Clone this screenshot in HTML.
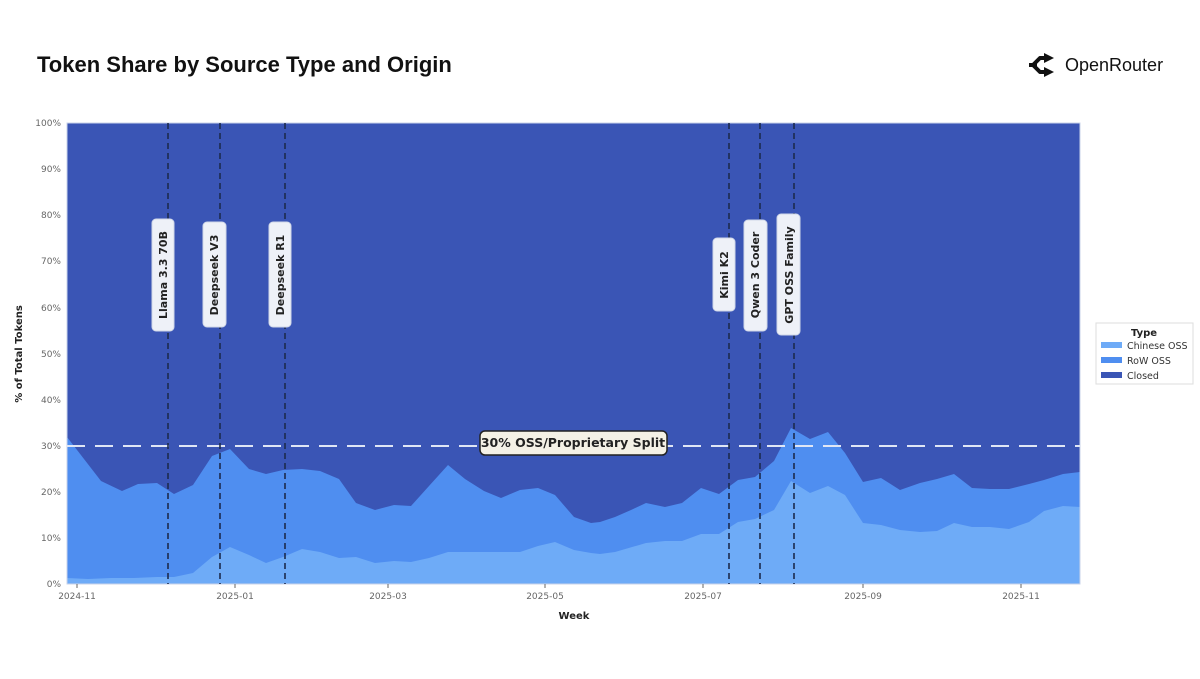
<!DOCTYPE html>
<html><head><meta charset="utf-8"><style>
body{margin:0;background:#fff;width:1200px;height:675px;overflow:hidden;font-family:"DejaVu Sans","Liberation Sans",sans-serif}
</style></head><body>
<svg width="1200" height="675" viewBox="0 0 1200 675" xmlns="http://www.w3.org/2000/svg" font-family="DejaVu Sans, Liberation Sans, sans-serif">
<text x="37" y="72" font-family="Liberation Sans, sans-serif" font-weight="bold" font-size="22" fill="#111">Token Share by Source Type and Origin</text>
<path d="M1046 58 L1040 58 L1033 65 L1040 72 L1046 72" fill="none" stroke="#111" stroke-width="4" stroke-linejoin="round"/>
<path d="M1029 65 L1037 65" stroke="#111" stroke-width="4"/>
<polygon points="1044,53 1054,58 1044,63" fill="#111"/>
<polygon points="1044,67 1054,72 1044,77" fill="#111"/>
<text x="1065" y="71" font-family="Liberation Sans, sans-serif" font-size="18" fill="#111">OpenRouter</text>

<rect x="67" y="123" width="1013" height="461" fill="#3a55b5"/>
<polygon fill="#4f8ef0" points="67,584 67,437 101,481 122,491 138,484 157,483 174,494 193,485 212,456 230,449 249,469 266,474 283,470 302,469 320,471 339,479 356,503 375,510 394,505 411,506 429,486 448,465 465,479 484,491 501,498 520,490 538,488 555,495 574,517 591,523 600,522 615,517 631,510 646,503 665,507 682,503 701,488 719,494 738,480 755,477 774,461 791,428 810,439 828,432 845,453 863,482 881,478 900,490 920,483 937,479 954,474 972,488 990,489 1009,489 1029,484 1044,480 1063,474 1080,472 1080,584"/>
<polygon fill="#6eabf7" points="67,584 67,578 88,579 111,578 134,578 157,577 174,577 193,573 212,557 230,547 249,555 266,563 283,557 302,549 320,552 339,558 356,557 375,563 394,561 411,562 429,558 448,552 484,552 520,552 538,546 555,542 574,550 591,553 600,554 615,552 646,543 665,541 682,541 701,534 719,534 738,522 755,519 774,510 791,481 810,493 828,486 845,495 863,523 881,525 900,530 920,532 937,531 954,523 972,527 990,527 1009,529 1029,522 1044,511 1063,506 1080,507 1080,584"/>
<rect x="67" y="123" width="1013" height="461" fill="none" stroke="#c9d3ea" stroke-width="1"/>

<line x1="67" y1="446" x2="1080" y2="446" stroke="#dfe6f5" stroke-width="2" stroke-dasharray="18,10"/>
<g stroke="#1c2b4d" stroke-width="1.6" stroke-dasharray="6,4">
<line x1="168" y1="123" x2="168" y2="584"/><line x1="220" y1="123" x2="220" y2="584"/><line x1="285" y1="123" x2="285" y2="584"/>
<line x1="729" y1="123" x2="729" y2="584"/><line x1="760" y1="123" x2="760" y2="584"/><line x1="794" y1="123" x2="794" y2="584"/>
</g>
<g fill="#eef1f8" stroke="#d0d7e8" stroke-width="1">
<rect x="152" y="219" width="22" height="112" rx="4"/><rect x="203" y="222" width="23" height="105" rx="4"/><rect x="269" y="222" width="22" height="105" rx="4"/>
<rect x="713" y="238" width="22" height="73" rx="4"/><rect x="744" y="220" width="23" height="111" rx="4"/><rect x="777" y="214" width="23" height="121" rx="4"/>
</g>
<g font-size="11" font-weight="bold" fill="#222" text-anchor="middle">
<text transform="translate(167,275) rotate(-90)">Llama 3.3 70B</text>
<text transform="translate(218,275) rotate(-90)">Deepseek V3</text>
<text transform="translate(284,275) rotate(-90)">Deepseek R1</text>
<text transform="translate(728,275) rotate(-90)">Kimi K2</text>
<text transform="translate(759,275) rotate(-90)">Qwen 3 Coder</text>
<text transform="translate(793,275) rotate(-90)">GPT OSS Family</text>
</g>
<rect x="480" y="431" width="187" height="24" rx="5" fill="#f4f1e6" stroke="#222" stroke-width="1.5"/>
<text x="573" y="447" font-size="12.5" font-weight="bold" fill="#222" text-anchor="middle">30% OSS/Proprietary Split</text>

<g font-size="9" fill="#666" text-anchor="end">
<text x="61" y="587">0%</text><text x="61" y="541">10%</text><text x="61" y="495">20%</text><text x="61" y="449">30%</text><text x="61" y="403">40%</text><text x="61" y="357">50%</text><text x="61" y="311">60%</text><text x="61" y="264">70%</text><text x="61" y="218">80%</text><text x="61" y="172">90%</text><text x="61" y="126">100%</text>
</g>
<g stroke="#666" stroke-width="1"><line x1="77" y1="584" x2="77" y2="588"/><line x1="235" y1="584" x2="235" y2="588"/><line x1="388" y1="584" x2="388" y2="588"/><line x1="545" y1="584" x2="545" y2="588"/><line x1="703" y1="584" x2="703" y2="588"/><line x1="863" y1="584" x2="863" y2="588"/><line x1="1021" y1="584" x2="1021" y2="588"/></g>
<g font-size="9" fill="#666" text-anchor="middle">
<text x="77" y="599">2024-11</text><text x="235" y="599">2025-01</text><text x="388" y="599">2025-03</text><text x="545" y="599">2025-05</text><text x="703" y="599">2025-07</text><text x="863" y="599">2025-09</text><text x="1021" y="599">2025-11</text>
</g>
<text x="574" y="619" font-size="10" font-weight="bold" fill="#222" text-anchor="middle">Week</text>
<text transform="translate(22,354) rotate(-90)" font-size="10" font-weight="bold" fill="#222" text-anchor="middle">% of Total Tokens</text>

<rect x="1096" y="323" width="97" height="61" fill="#fff" stroke="#ddd"/>
<text x="1144" y="336" font-size="10" font-weight="bold" fill="#222" text-anchor="middle">Type</text>
<rect x="1101" y="342" width="21" height="6" fill="#6eabf7"/><text x="1127" y="349" font-size="9.5" fill="#333">Chinese OSS</text>
<rect x="1101" y="357" width="21" height="6" fill="#4f8ef0"/><text x="1127" y="364" font-size="9.5" fill="#333">RoW OSS</text>
<rect x="1101" y="372" width="21" height="6" fill="#3a55b5"/><text x="1127" y="379" font-size="9.5" fill="#333">Closed</text>
</svg>
</body></html>
